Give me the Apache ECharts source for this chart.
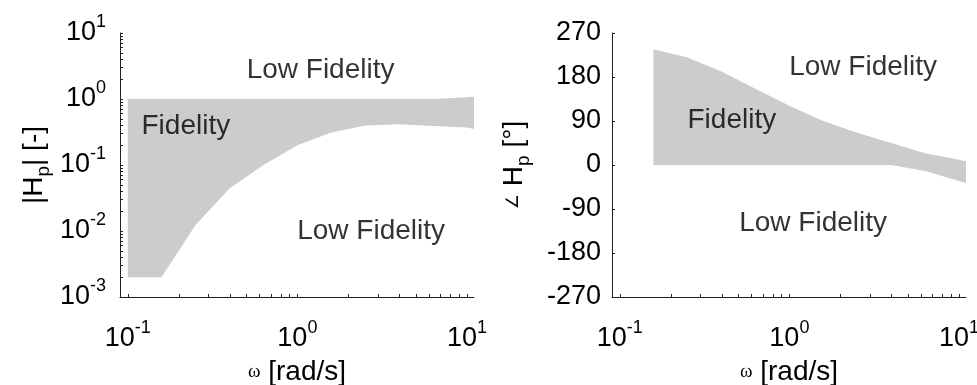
<!DOCTYPE html>
<html><head><meta charset="utf-8">
<script src="https://cdn.jsdelivr.net/npm/echarts@6/dist/echarts.min.js"></script>
<style>html,body{margin:0;padding:0;background:#fff}#c{width:977px;height:385px}</style>
</head><body><div id="c"></div>
<script>
// ---- data ----
const magFreq   = [0.1, 0.158, 0.251, 0.398, 0.631, 1.0, 1.585, 2.512, 3.981, 6.31, 10, 11];
const magUpper  = [1, 1, 1, 1, 1, 1, 1, 1, 1, 1, 1.06, 1.08];
const magLower  = [0.002, 0.002, 0.0123, 0.044, 0.1, 0.2, 0.31, 0.395, 0.414, 0.39, 0.37, 0.35];

const phaseFreq  = [0.158, 0.251, 0.398, 0.631, 1.0, 1.585, 2.512, 3.981, 6.31, 10, 11];
const phaseUpper = [237, 220, 191, 156, 121, 90, 66, 45, 24, 10.5, 7.8];
const phaseLower = [0, 0, 0, 0, 0, 0, 0, 0, -12.5, -32.5, -36.5];

const freqTickLabels = [0.1, 1, 10];
const magTickLabels  = [0.001, 0.01, 0.1, 1, 10];
const phaseRange = [-270, 270];
const phaseStep = 90;

const annotationText   = ['Low Fidelity', 'Fidelity', 'Low Fidelity'];
const magAnnotations   = [[1.37, 2.75], [0.22, 0.39], [2.72, 0.01]];
const phaseAnnotations = [[2.72, 200], [0.458, 92], [1.38, -119]];

// ---- helpers ----
const FONT = 'Liberation Sans, Arial, sans-serif';
const AXIS_COLOR = '#222';
const BAND_COLOR = '#cccccc';
const TXT = '#000';

function decadeTicks(lo, hi) { // log-axis tick positions 1..9 per decade
  const t = [];
  for (let e = lo; e < hi; e++) for (let m = 1; m <= 9; m++) t.push(+(m * Math.pow(10, e)).toPrecision(6));
  t.push(Math.pow(10, hi));
  return t;
}
function powLabel(v) {
  const e = Math.round(Math.log10(v));
  return '{b|10}{s|' + e + '}';
}
const powRich = {
  b: { fontFamily: FONT, fontSize: 27, lineHeight: 40, color: TXT },
  s: { fontFamily: FONT, fontSize: 18, lineHeight: 14, verticalAlign: 'top', color: TXT }
};
const tickStyle = { show: true, inside: true, length: 3, lineStyle: { color: AXIS_COLOR, width: 1 } };
const lineStyle = { show: true, onZero: false, lineStyle: { color: AXIS_COLOR, width: 1 } };

function freqAxis(gridIndex) {
  return {
    type: 'log', logBase: 10, gridIndex, min: 0.09, max: 11,
    axisLine: lineStyle,
    axisTick: Object.assign({}, tickStyle, { customValues: decadeTicks(-1, 1) }),
    axisLabel: { customValues: freqTickLabels, formatter: powLabel, rich: powRich, margin: 22 },
    splitLine: { show: false }, minorTick: { show: false },
    name: '{w|ω}{t|\u00a0[rad/s]}', nameLocation: 'middle', nameGap: 61,
    nameTextStyle: { rich: {
      w: { fontFamily: 'Liberation Serif, serif', fontSize: 19, color: TXT },
      t: { fontFamily: FONT, fontSize: 28, color: TXT } } }
  };
}

function bandSeries(axisIdx, freq, lower, upper) {
  return {
    type: 'custom', xAxisIndex: axisIdx, yAxisIndex: axisIdx, silent: true,
    data: freq.map((f, i) => [f, lower[i], upper[i]]),
    encode: { x: 0, y: [1, 2] },
    renderItem: function (params, api) {
      if (params.dataIndex !== 0) return null;
      const pts = [];
      for (let i = 0; i < freq.length; i++) pts.push(api.coord([freq[i], upper[i]]));
      for (let i = freq.length - 1; i >= 0; i--) pts.push(api.coord([freq[i], lower[i]]));
      return { type: 'polygon', shape: { points: pts }, style: { fill: BAND_COLOR, stroke: null } };
    }
  };
}
function annotationSeries(axisIdx, pts) {
  return {
    type: 'scatter', xAxisIndex: axisIdx, yAxisIndex: axisIdx, silent: true,
    symbolSize: 1, itemStyle: { color: 'rgba(0,0,0,0)' },
    data: pts.map((p, i) => ({ name: annotationText[i], value: p })),
    label: { show: true, position: 'inside', formatter: '{b}', fontFamily: FONT, fontSize: 28, color: TXT }
  };
}

const chart = echarts.init(document.getElementById('c'), null, { renderer: 'canvas' });
chart.setOption({
  animation: false,
  backgroundColor: '#fff',
  grid: [
    { left: 120, top: 33, width: 354, height: 264, containLabel: false, outerBoundsMode: 'none' },
    { left: 612, top: 33, width: 354, height: 264, containLabel: false, outerBoundsMode: 'none' }
  ],
  xAxis: [freqAxis(0), freqAxis(1)],
  yAxis: [
    {
      type: 'log', logBase: 10, gridIndex: 0, min: 0.001, max: 10,
      axisLine: lineStyle,
      axisTick: Object.assign({}, tickStyle, { customValues: decadeTicks(-3, 1) }),
      axisLabel: { customValues: magTickLabels, formatter: powLabel, rich: powRich, margin: 14 },
      splitLine: { show: false }, minorTick: { show: false },
      name: '{a||H}{p|p}{a|| [-]}', nameLocation: 'middle', nameGap: 67,
      nameTextStyle: { rich: {
        a: { fontFamily: FONT, fontSize: 28, lineHeight: 38, color: TXT },
        p: { fontFamily: FONT, fontSize: 19, lineHeight: 18, verticalAlign: 'bottom', color: TXT } } }
    },
    {
      type: 'value', gridIndex: 1, min: phaseRange[0], max: phaseRange[1], interval: phaseStep,
      axisLine: lineStyle,
      axisTick: tickStyle,
      axisLabel: { fontFamily: FONT, fontSize: 27, color: TXT, margin: 11 },
      splitLine: { show: false },
      name: '{g|∠}{a|\u00a0H}{p|p}{a|\u00a0[°]}', nameLocation: 'middle', nameGap: 79,
      nameTextStyle: { rich: {
        g: { fontFamily: 'DejaVu Sans, sans-serif', fontSize: 17, color: TXT },
        a: { fontFamily: FONT, fontSize: 28, lineHeight: 38, color: TXT },
        p: { fontFamily: FONT, fontSize: 19, lineHeight: 18, verticalAlign: 'bottom', color: TXT } } }
    }
  ],
  series: [
    bandSeries(0, magFreq, magLower, magUpper),
    bandSeries(1, phaseFreq, phaseLower, phaseUpper),
    annotationSeries(0, magAnnotations),
    annotationSeries(1, phaseAnnotations)
  ]
});
</script></body></html>
